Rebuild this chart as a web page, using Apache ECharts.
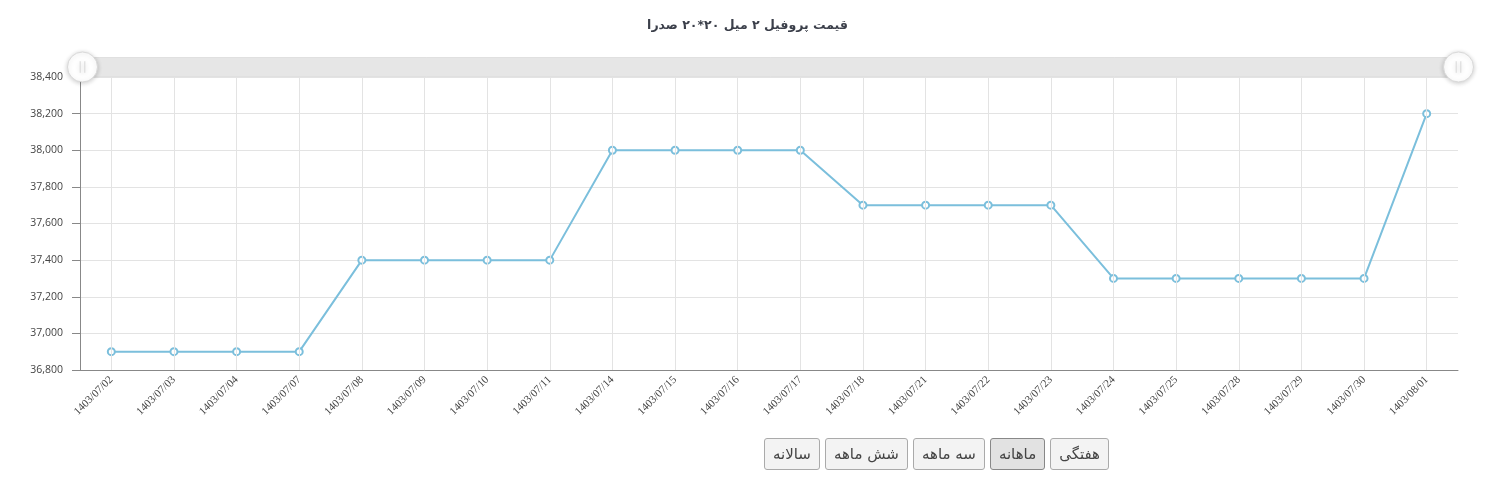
<!DOCTYPE html>
<html><head><meta charset="utf-8">
<script src="https://cdn.jsdelivr.net/npm/echarts@6/dist/echarts.min.js"></script>
<style>
html,body{margin:0;padding:0;background:#fff;}
#c{width:1495px;height:480px;position:absolute;left:0;top:0;}
#btns{position:absolute;top:438px;right:386px;direction:rtl;display:flex;gap:5px;font-family:'DejaVu Sans',sans-serif;}
#btns span{display:inline-block;height:30px;line-height:30px;padding:0 8px;border:1px solid #aaa;border-radius:3px;background:#f3f3f3;color:#444;font-size:15px;}
#btns span.act{background:#e2e2e2;border-color:#888;}
</style></head><body>
<div id="c"></div>
<div id="btns"><span>هفتگی</span><span class="act">ماهانه</span><span>سه ماهه</span><span>شش ماهه</span><span>سالانه</span></div>
<script>
const titleText = 'قیمت پروفیل ۲ میل ۲۰*۲۰ صدرا';
const categories = ['1403/07/02','1403/07/03','1403/07/04','1403/07/07','1403/07/08','1403/07/09','1403/07/10','1403/07/11','1403/07/14','1403/07/15','1403/07/16','1403/07/17','1403/07/18','1403/07/21','1403/07/22','1403/07/23','1403/07/24','1403/07/25','1403/07/28','1403/07/29','1403/07/30','1403/08/01'];
const prices = [36900,36900,36900,36900,37400,37400,37400,37400,38000,38000,38000,38000,37700,37700,37700,37700,37300,37300,37300,37300,37300,38200];
const yMin = 36800, yMax = 38400, yStep = 200;

const chart = echarts.init(document.getElementById('c'));
chart.setOption({
  animation:false,
  title:{text:titleText,left:'center',top:14,textStyle:{fontFamily:'DejaVu Sans',fontSize:12.5,fontWeight:'bold',color:'#3b3f4a'}},
  grid:{left:80,right:37,top:77,bottom:110},
  dataZoom:[{type:'slider',xAxisIndex:0,start:0,end:100,top:57,height:20,left:80,right:37,
    showDetail:false,brushSelect:false,moveHandleSize:0,showDataShadow:false,
    backgroundColor:'#e8e8e8',fillerColor:'#e6e6e6',borderColor:'#e0e0e0',
    dataBackground:{lineStyle:{opacity:0},areaStyle:{opacity:0}},
    selectedDataBackground:{lineStyle:{opacity:0},areaStyle:{opacity:0}},
    handleIcon:'path://M0,-13 A13,13 0 1 1 0,13 A13,13 0 1 1 0,-13 Z M-2,-5 L-2,5 M2,-5 L2,5',
    handleSize:'150%',
    handleStyle:{color:'#fff',borderColor:'#d8d8d8',borderWidth:1,shadowBlur:5,shadowColor:'rgba(0,0,0,0.2)',shadowOffsetY:1},
    emphasis:{handleStyle:{color:'#fff',borderColor:'#d8d8d8'}}
  }],
  xAxis:{type:'category',data:categories,boundaryGap:true,
    axisLine:{lineStyle:{color:'#888'}},
    axisTick:{alignWithLabel:true,length:5,lineStyle:{color:'#888'}},
    axisLabel:{rotate:45,interval:0,fontFamily:'Liberation Serif',fontSize:11,color:'#444',margin:8},
    splitLine:{show:false}},
  yAxis:{type:'value',min:yMin,max:yMax,interval:yStep,
    axisLine:{show:true,lineStyle:{color:'#888'}},
    axisTick:{show:true,length:8,lineStyle:{color:'#888'}},
    axisLabel:{fontFamily:'Open Sans',fontSize:10.5,color:'#444',margin:17,
      formatter:v=>v.toLocaleString('en-US')},
    splitLine:{lineStyle:{color:'#e3e3e3'}}},
  series:[
    {type:'line',data:[],z:1,silent:true,
      markLine:{silent:true,symbol:['none','none'],label:{show:false},animation:false,
        lineStyle:{color:'#e3e3e3',width:1,type:'solid'},
        emphasis:{disabled:true},
        data:categories.map(c=>({xAxis:c}))}},
    {type:'line',data:prices,z:3,symbol:'emptyCircle',symbolSize:7,
      lineStyle:{color:'#7bbfdc',width:2},itemStyle:{color:'#7bbfdc',borderWidth:1.8}}
  ]
});
</script>
</body></html>
